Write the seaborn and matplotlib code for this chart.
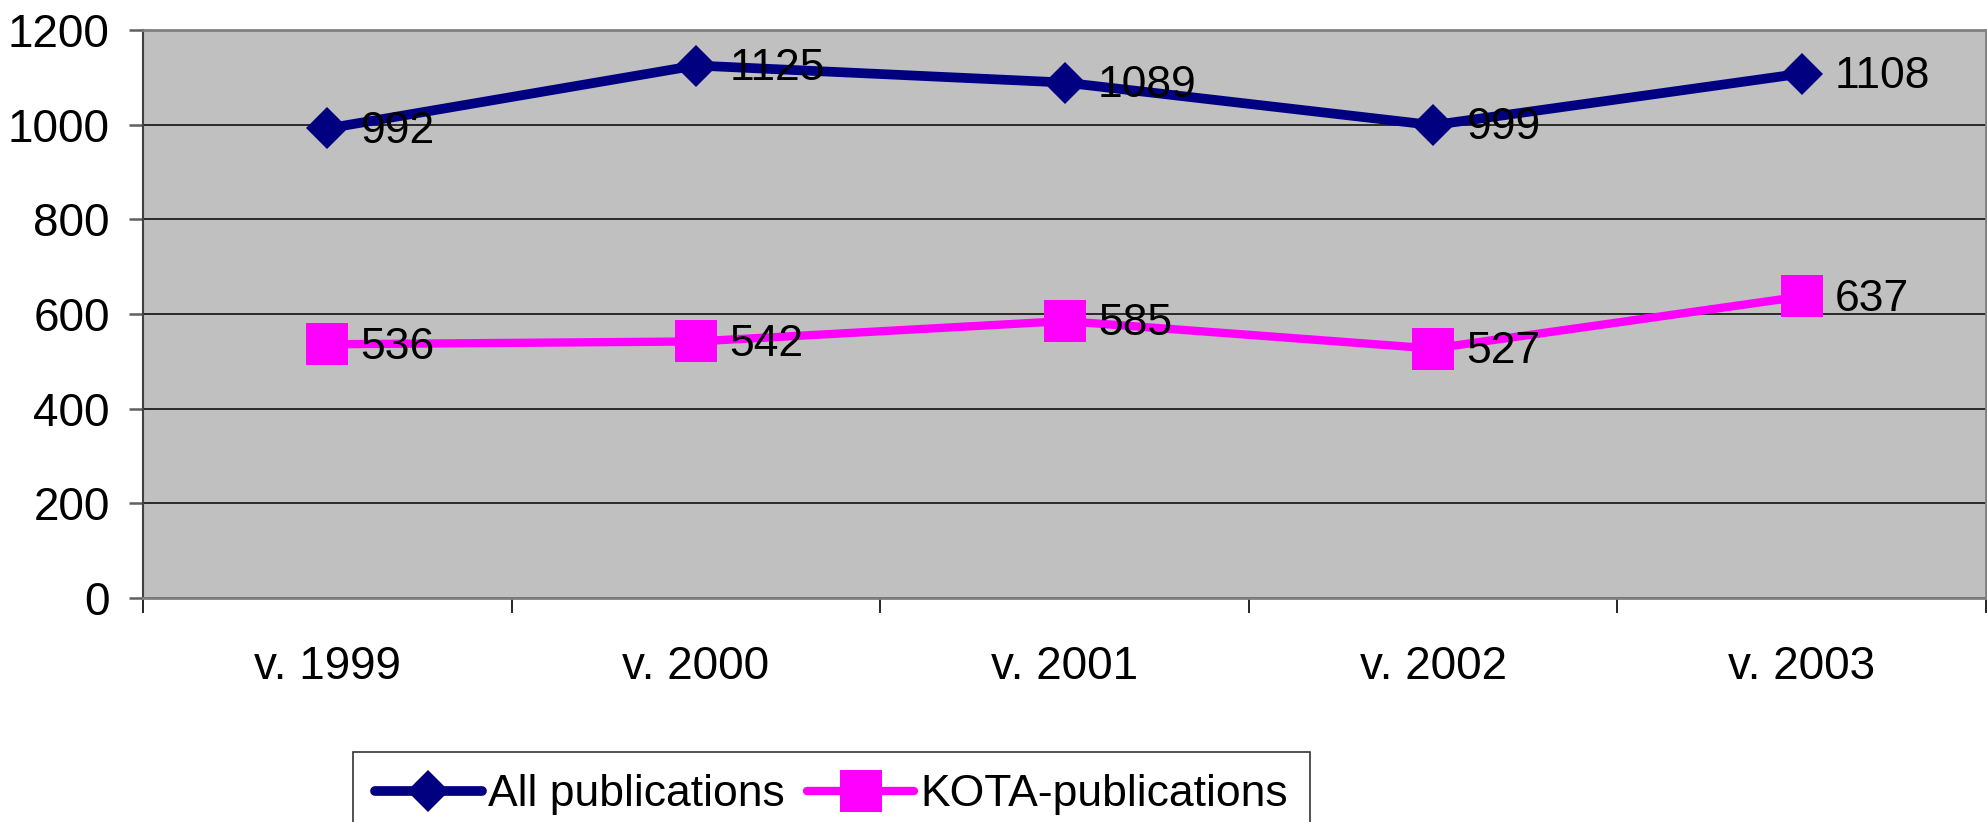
import numpy as np
import pandas as pd
import matplotlib
matplotlib.use("Agg")
import matplotlib.pyplot as plt
import seaborn as sns

# data
years = ["v. 1999", "v. 2000", "v. 2001", "v. 2002", "v. 2003"]
all_pubs = [992, 1125, 1089, 999, 1108]
kota_pubs = [536, 542, 585, 527, 637]
series_names = ["All publications", "KOTA-publications"]

df = pd.DataFrame({
    "pos": list(np.arange(len(years))) * 2,
    "value": all_pubs + kota_pubs,
    "series": [series_names[0]] * len(years) + [series_names[1]] * len(years),
})

sns.set_style("white")
plt.rcParams["font.family"] = ["Liberation Sans", "DejaVu Sans"]
plt.rcParams["text.color"] = "black"

fig = plt.figure(figsize=(19.87, 8.22), dpi=100)
ax = fig.add_axes([0.072, 0.2725, 0.9275, 0.691])
ax.set_facecolor("#C0C0C0")

styles = {
    "All publications": dict(color="#000080", marker="D", markersize=21, linewidth=7),
    "KOTA-publications": dict(color="#FF00FF", marker="s", markersize=30, linewidth=6),
}
for name in series_names:
    sub = df[df["series"] == name]
    st = styles[name]
    sns.lineplot(data=sub, x="pos", y="value", ax=ax, color=st["color"],
                 marker=st["marker"], markersize=st["markersize"],
                 linewidth=st["linewidth"], markeredgewidth=0,
                 label=name, legend=False, zorder=3)
    for x, y in zip(sub["pos"], sub["value"]):
        ax.annotate(str(y), (x, y), xytext=(24, -2), textcoords="offset points",
                    ha="left", va="center", fontsize=32, color="black", zorder=4)

ax.set_xlim(-0.5, len(years) - 0.5)
ax.set_ylim(0, 1200)
ax.set_yticks(np.arange(0, 1201, 200))
ax.grid(axis="y", color="#101010", linewidth=1.2)
ax.set_axisbelow(True)

ax.set_xticks(np.arange(len(years)))
ax.set_xticklabels(years)
ax.set_xticks(np.arange(-0.5, len(years)), minor=True)
ax.tick_params(axis="x", which="major", bottom=True, length=0, pad=34,
               labelsize=33, labelcolor="black")
ax.tick_params(axis="x", which="minor", bottom=True, length=11, width=1.2,
               color="black", direction="out")
ax.tick_params(axis="y", left=True, length=10, width=1.8, color="#606060",
               direction="out", pad=14, labelsize=33, labelcolor="black")
ax.set_xlabel("")
ax.set_ylabel("")

for side in ["top", "right", "bottom"]:
    ax.spines[side].set_color("#808080")
    ax.spines[side].set_linewidth(2)
ax.spines["left"].set_color("#404040")
ax.spines["left"].set_linewidth(1.5)

handles, labels = ax.get_legend_handles_labels()
leg = fig.legend(handles, labels, loc="center", bbox_to_anchor=(0.4185, 0.033),
                 ncol=2, fontsize=32, frameon=True, fancybox=False,
                 handlelength=2.4, handletextpad=0.15, columnspacing=0.5,
                 borderpad=0.5, borderaxespad=0)
leg.get_frame().set_edgecolor("black")
leg.get_frame().set_linewidth(1.2)

fig.savefig("out.png", dpi=100)
